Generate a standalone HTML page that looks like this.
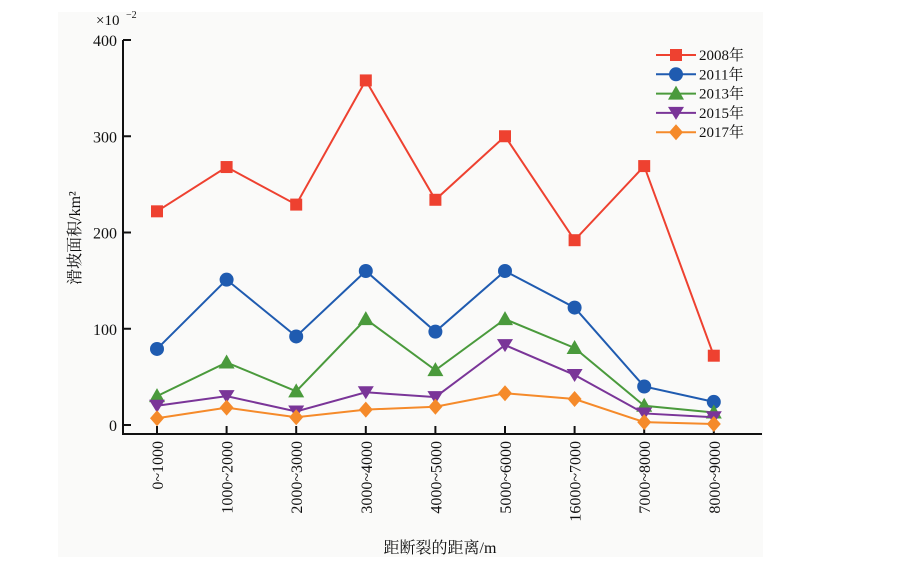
<!DOCTYPE html>
<html><head><meta charset="utf-8"><style>
body{margin:0;background:#fff;}
svg{display:block;font-family:"Liberation Serif","Noto Serif CJK SC",serif;}
</style></head><body>
<svg id="c" width="905" height="564">
<rect x="58" y="12" width="705" height="545" fill="#fafaf9"/>
<g id="g"></g>
</svg>
<script>
const categories=["0~1000","1000~2000","2000~3000","3000~4000","4000~5000","5000~6000","16000~7000","7000~8000","8000~9000"];
const seriesNames=["2008年","2011年","2013年","2015年","2017年"];
const s2008=[222,268,229,358,234,300,192,269,72];
const s2011=[79,151,92,160,97,160,122,40,24];
const s2013=[30,65,35,110,57,110,80,20,13];
const s2015=[20,30,14,34,29,83,52,12,8];
const s2017=[7,18,8,16,19,33,27,3,1];
const yTicks=[0,100,200,300,400];
const series=[s2008,s2011,s2013,s2015,s2017];
const colors=["#ee4130","#1f5bb0","#4a9a3c","#7a3598","#f58a2a"];
const shapes=["square","circle","tri","tridown","diamond"];
const NS="http://www.w3.org/2000/svg";
const g=document.getElementById('g');
const x=i=>157+i*69.6;
const y=v=>425-v*0.9625;
function el(t,a,p){const e=document.createElementNS(NS,t);for(const k in a)e.setAttribute(k,a[k]);(p||g).appendChild(e);return e;}
function marker(sh,cx,cy,c){
  let e;
  if(sh=="square")e=el('rect',{x:cx-6,y:cy-6,width:12,height:12,fill:c});
  else if(sh=="circle")e=el('circle',{cx:cx,cy:cy,r:7,fill:c});
  else if(sh=="tri")e=el('polygon',{points:`${cx},${cy-8} ${cx-8},${cy+6} ${cx+8},${cy+6}`,fill:c});
  else if(sh=="tridown")e=el('polygon',{points:`${cx},${cy+7} ${cx-8},${cy-6} ${cx+8},${cy-6}`,fill:c});
  else e=el('polygon',{points:`${cx},${cy-8} ${cx+7},${cy} ${cx},${cy+8} ${cx-7},${cy}`,fill:c});
  return e;
}
// axes
let a=el('line',{x1:123,y1:40,x2:123,y2:434,stroke:'#111','stroke-width':2});


a=el('line',{x1:122,y1:434,x2:762,y2:434,stroke:'#111','stroke-width':2});


yTicks.forEach(v=>{
  let t=el('line',{x1:123,y1:y(v),x2:131,y2:y(v),stroke:'#111','stroke-width':2});
  
  
  let l=el('text',{x:117,y:y(v)+6,'text-anchor':'end','font-size':16,fill:'#111'});
  l.textContent=v;
  
  
});
let m=el('text',{x:96,y:25,'font-size':15,fill:'#111'});m.textContent='×10';


let sup=el('text',{x:126,y:18,'font-size':10,fill:'#111'});sup.textContent='−2';


categories.forEach((c,i)=>{
  let t=el('line',{x1:x(i),y1:426,x2:x(i),y2:434,stroke:'#111','stroke-width':2});
  
  
  let l=el('text',{x:0,y:0,'text-anchor':'end','font-size':16,fill:'#111',transform:`translate(${x(i)+6},441) rotate(-90)`});
  l.textContent=c;
  
  
});
let yt=el('text',{x:0,y:0,'text-anchor':'middle','font-size':16,fill:'#111',transform:'translate(80,238) rotate(-90)'});
yt.textContent='滑坡面积/km²';


let xt=el('text',{x:440,y:553,'text-anchor':'middle','font-size':16,fill:'#111'});
xt.textContent='距断裂的距离/m';


series.forEach((s,k)=>{
  let p=el('polyline',{points:s.map((v,i)=>x(i)+','+y(v)).join(' '),fill:'none',stroke:colors[k],'stroke-width':2});
  
  
  s.forEach((v,i)=>{
    let mk=marker(shapes[k],x(i),y(v),colors[k]);
    
    
  });
  let ly=55+k*19.3;
  let ll=el('line',{x1:656,y1:ly,x2:696,y2:ly,stroke:colors[k],'stroke-width':2});
  
  
  let lm=marker(shapes[k],676,ly,colors[k]);
  
  
  let lt=el('text',{x:699,y:ly+5,'font-size':15,fill:'#111'});
  lt.textContent=seriesNames[k];
  
  
});
</script>
</body></html>
